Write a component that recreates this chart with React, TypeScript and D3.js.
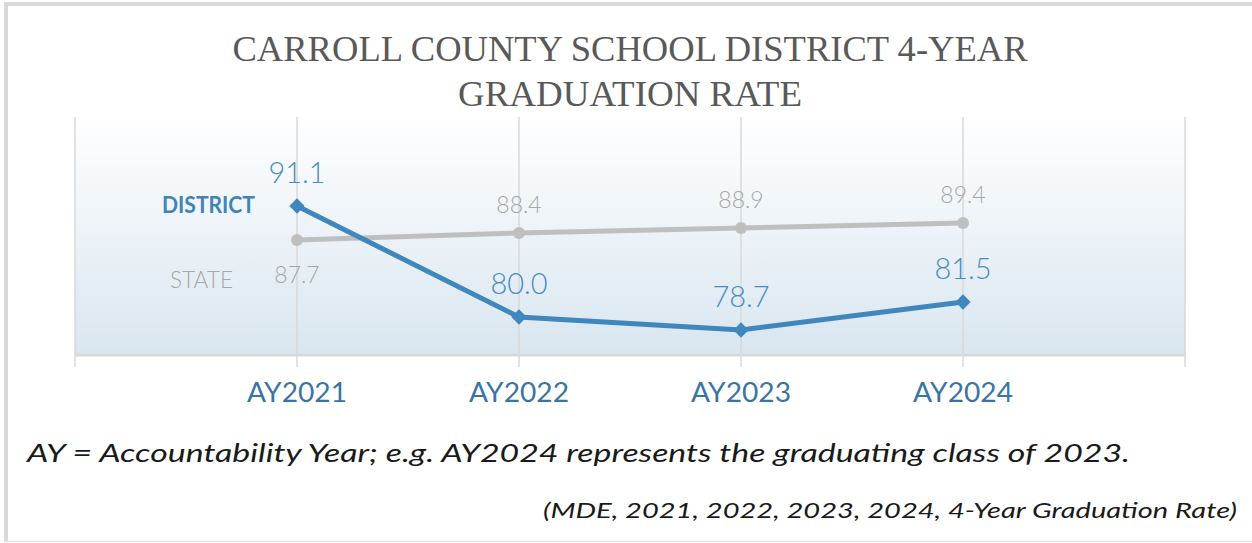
import React from "react";
import * as d3 from "d3";

const categories = ["AY2021", "AY2022", "AY2023", "AY2024"];
const districtValues = [91.1, 80.0, 78.7, 81.5];
const stateValues = [87.7, 88.4, 88.9, 89.4];
const titleLines = ["CARROLL COUNTY SCHOOL DISTRICT 4-YEAR", "GRADUATION RATE"];
const footnote = "AY = Accountability Year; e.g. AY2024 represents the graduating class of 2023.";
const source = "(MDE, 2021, 2022, 2023, 2024, 4-Year Graduation Rate)";

const W = 1252;
const H = 543;
const plot = { left: 75, right: 1185, top: 117, bottom: 355 };
const sans = "Lato, 'Noto Sans', sans-serif";
const blue = "#3f87bd";
const blueText = "#4a8cc1";
const gray = "#bfbfbf";
const grayText = "#a6a6a6";

export default function App() {
  const slots = ["_start", ...categories, "_end"];
  const x = d3.scalePoint<string>().domain(slots).range([plot.left, plot.right]);
  const y = d3.scaleLinear().domain([76.2, 100]).range([plot.bottom, plot.top]);

  const line = d3
    .line<number>()
    .x((_, i) => x(categories[i]) as number)
    .y((d) => y(d));

  const diamond = d3.symbol().type(d3.symbolDiamond2).size(150)();

  return (
    <svg
      width={W}
      height={H}
      style={{ position: "absolute", left: 0, top: 0, background: "#fff" }}
    >
      <defs>
        <linearGradient id="bg" x1="0" y1="0" x2="0" y2="1">
          <stop offset="0%" stopColor="#ffffff" />
          <stop offset="100%" stopColor="#d9e6f0" />
        </linearGradient>
      </defs>
      {/* frame */}
      <line x1={4} x2={W} y1={4} y2={4} stroke="#d9d9d9" strokeWidth={4} />
      <line x1={6} x2={6} y1={2} y2={541} stroke="#d9d9d9" strokeWidth={4} />
      <line x1={4} x2={W} y1={541.5} y2={541.5} stroke="#e6e6e6" strokeWidth={1.5} />

      {/* title */}
      {titleLines.map((t, i) => (
        <text
          key={i}
          x={630}
          y={61 + i * 45}
          textAnchor="middle"
          fontFamily="'Liberation Serif', serif"
          fontSize={35}
          fill="#595959"
          textLength={i === 0 ? 795 : 344}
          lengthAdjust="spacingAndGlyphs"
        >
          {t}
        </text>
      ))}

      {/* plot background */}
      <rect
        x={plot.left}
        y={plot.top}
        width={plot.right - plot.left}
        height={plot.bottom - plot.top}
        fill="url(#bg)"
      />

      {/* gridlines */}
      {slots.map((s) => (
        <line
          key={s}
          x1={x(s)}
          x2={x(s)}
          y1={plot.top}
          y2={plot.bottom + 12}
          stroke="#d9d9d9"
          strokeWidth={1.5}
        />
      ))}
      <line
        x1={plot.left}
        x2={plot.right}
        y1={plot.bottom}
        y2={plot.bottom}
        stroke="#d9d9d9"
        strokeWidth={3}
      />

      {/* x labels */}
      {categories.map((c) => (
        <text
          key={c}
          x={x(c)}
          y={402}
          textAnchor="middle"
          fontFamily={sans}
          fontSize={27}
          fill="#3a74a5"
          textLength={100}
          lengthAdjust="spacingAndGlyphs"
        >
          {c}
        </text>
      ))}

      {/* state series */}
      <path d={line(stateValues) || ""} fill="none" stroke={gray} strokeWidth={5} />
      {stateValues.map((v, i) => (
        <circle key={i} cx={x(categories[i])} cy={y(v)} r={6} fill={gray} />
      ))}
      {stateValues.map((v, i) => (
        <text
          key={i}
          x={x(categories[i])}
          y={i === 0 ? y(v) + 43 : y(v) - 20}
          textAnchor="middle"
          fontFamily={sans}
          fontWeight={300}
          fontSize={23}
          fill={grayText}
        >
          {v.toFixed(1)}
        </text>
      ))}

      {/* district series */}
      <path d={line(districtValues) || ""} fill="none" stroke={blue} strokeWidth={5} />
      {districtValues.map((v, i) => (
        <path
          key={i}
          d={diamond || ""}
          transform={`translate(${x(categories[i])},${y(v)})`}
          fill={blue}
        />
      ))}
      {districtValues.map((v, i) => (
        <text
          key={i}
          x={x(categories[i])}
          y={y(v) - 23}
          textAnchor="middle"
          fontFamily={sans}
          fontWeight={300}
          fontSize={29}
          fill={blueText}
        >
          {v.toFixed(1)}
        </text>
      ))}

      {/* series name labels */}
      <text
        x={255}
        y={213}
        textAnchor="end"
        fontFamily={sans}
        fontWeight="bold"
        fontSize={23}
        fill="#3f84b8"
        textLength={93}
        lengthAdjust="spacingAndGlyphs"
      >
        DISTRICT
      </text>
      <text
        x={233}
        y={288}
        textAnchor="end"
        fontFamily={sans}
        fontWeight={300}
        fontSize={24}
        fill={grayText}
        textLength={63}
        lengthAdjust="spacingAndGlyphs"
      >
        STATE
      </text>

      {/* footnotes */}
      <text
        x={27}
        y={462}
        fontFamily={sans}
        fontStyle="italic"
        fontSize={25}
        fill="#1a1a1a"
        textLength={1103}
        lengthAdjust="spacingAndGlyphs"
      >
        {footnote}
      </text>
      <text
        x={1237}
        y={518}
        textAnchor="end"
        fontFamily={sans}
        fontStyle="italic"
        fontSize={21}
        fill="#1a1a1a"
        textLength={694}
        lengthAdjust="spacingAndGlyphs"
      >
        {source}
      </text>
    </svg>
  );
}
